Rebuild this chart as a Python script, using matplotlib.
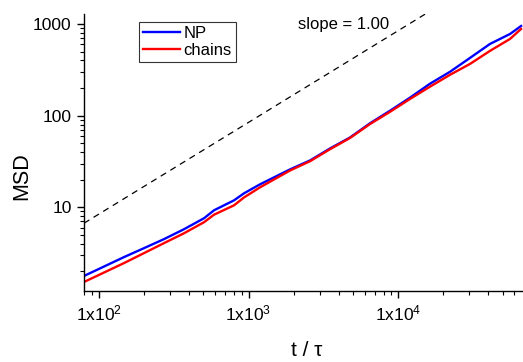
import math
import matplotlib
matplotlib.use("Agg")
import matplotlib.pyplot as plt
from matplotlib.ticker import LogLocator, FixedLocator, NullFormatter, FuncFormatter

plt.rcParams['font.family'] = ['Liberation Sans', 'DejaVu Sans']
plt.rcParams['mathtext.fontset'] = 'custom'
plt.rcParams['mathtext.rm'] = 'Liberation Sans'
plt.rcParams['mathtext.it'] = 'Liberation Sans:italic'

# time values (t / tau)
t_np = [79.4, 147, 200, 272, 371, 504, 588, 800, 933, 1194, 1896, 2578, 3507,
        4771, 6496, 8836, 12020, 16360, 22270, 30330, 41220, 56100, 66500]
msd_np = [1.78, 2.86, 3.58, 4.49, 5.77, 7.59, 9.27, 11.9, 14.2, 17.8, 25.9, 32.4, 43.8,
          57.7, 82.5, 113, 157, 223, 301, 427, 606, 778, 951]

t_ch = [79.4, 147, 200, 272, 371, 504, 588, 800, 933, 1194, 1896, 2578, 3507,
        4771, 6496, 8836, 12020, 16360, 22270, 30330, 41220, 56100, 66500]
msd_ch = [1.53, 2.46, 3.16, 4.06, 5.21, 6.87, 8.3, 10.5, 12.8, 16.5, 25.2, 31.8, 43.0,
          57.0, 81.0, 110, 152, 207, 279, 367, 509, 687, 883]

slope = 1.00
slope_t = [79.4, 68000]
slope_prefactor = 6.7  # MSD value at first slope_t

xlim = (79.4, 68500)
ylim = (1.22, 1285)

W, H = 523, 362
fig = plt.figure(figsize=(W/100, H/100), dpi=100)
ax = fig.add_axes([84/W, 1-291/H, 1-84/W, (291-14)/H])

slope_msd = [slope_prefactor * (t / slope_t[0]) ** slope for t in slope_t]
ax.plot(slope_t, slope_msd, color='black', lw=0.9, ls=(0, (5, 4)))
ax.plot(t_np, msd_np, color='#0000ff', lw=1.7, label='NP')
ax.plot(t_ch, msd_ch, color='#ff0000', lw=1.7, label='chains')

ax.set_xscale('log')
ax.set_yscale('log')
ax.set_xlim(*xlim)
ax.set_ylim(*ylim)

for s in ['top', 'right']:
    ax.spines[s].set_visible(False)
for s in ['left', 'bottom']:
    ax.spines[s].set_linewidth(1.0)

ax.xaxis.set_major_locator(FixedLocator([1e2, 1e3, 1e4]))
ax.xaxis.set_minor_locator(LogLocator(base=10, subs=range(2, 10)))
ax.xaxis.set_minor_formatter(NullFormatter())
ax.xaxis.set_major_formatter(FuncFormatter(lambda v, p: r'$\mathregular{1x10^{%d}}$' % round(math.log10(v))))
ax.yaxis.set_major_locator(FixedLocator([10, 100, 1000]))
ax.yaxis.set_minor_locator(LogLocator(base=10, subs=range(2, 10)))
ax.yaxis.set_minor_formatter(NullFormatter())
ax.yaxis.set_major_formatter(FuncFormatter(lambda v, p: '%d' % round(v)))

ax.tick_params(which='major', direction='out', length=5, width=1, labelsize=12.5, pad=4)
ax.tick_params(which='minor', direction='out', length=3, width=0.8)

fig.text(307/W, 1-350/H, 't / \u03c4', fontsize=15, ha='center', va='center')
fig.text(22/W, 1-176/H, 'MSD', fontsize=15.5, ha='center', va='center', rotation=90)

ax.text(298/W, 1-24/H, 'slope = %.2f' % slope, transform=fig.transFigure,
        fontsize=12, va='center', ha='left')

leg = ax.legend(loc='upper left', bbox_to_anchor=((139-84)/439, 1-(22-14)/277),
                frameon=True, fancybox=False, edgecolor='black', fontsize=12,
                handlelength=2.2, handletextpad=0.2, borderpad=0.25, labelspacing=0.1,
                borderaxespad=0)
leg.get_frame().set_linewidth(0.8)

fig.savefig('out.png', dpi=100)
